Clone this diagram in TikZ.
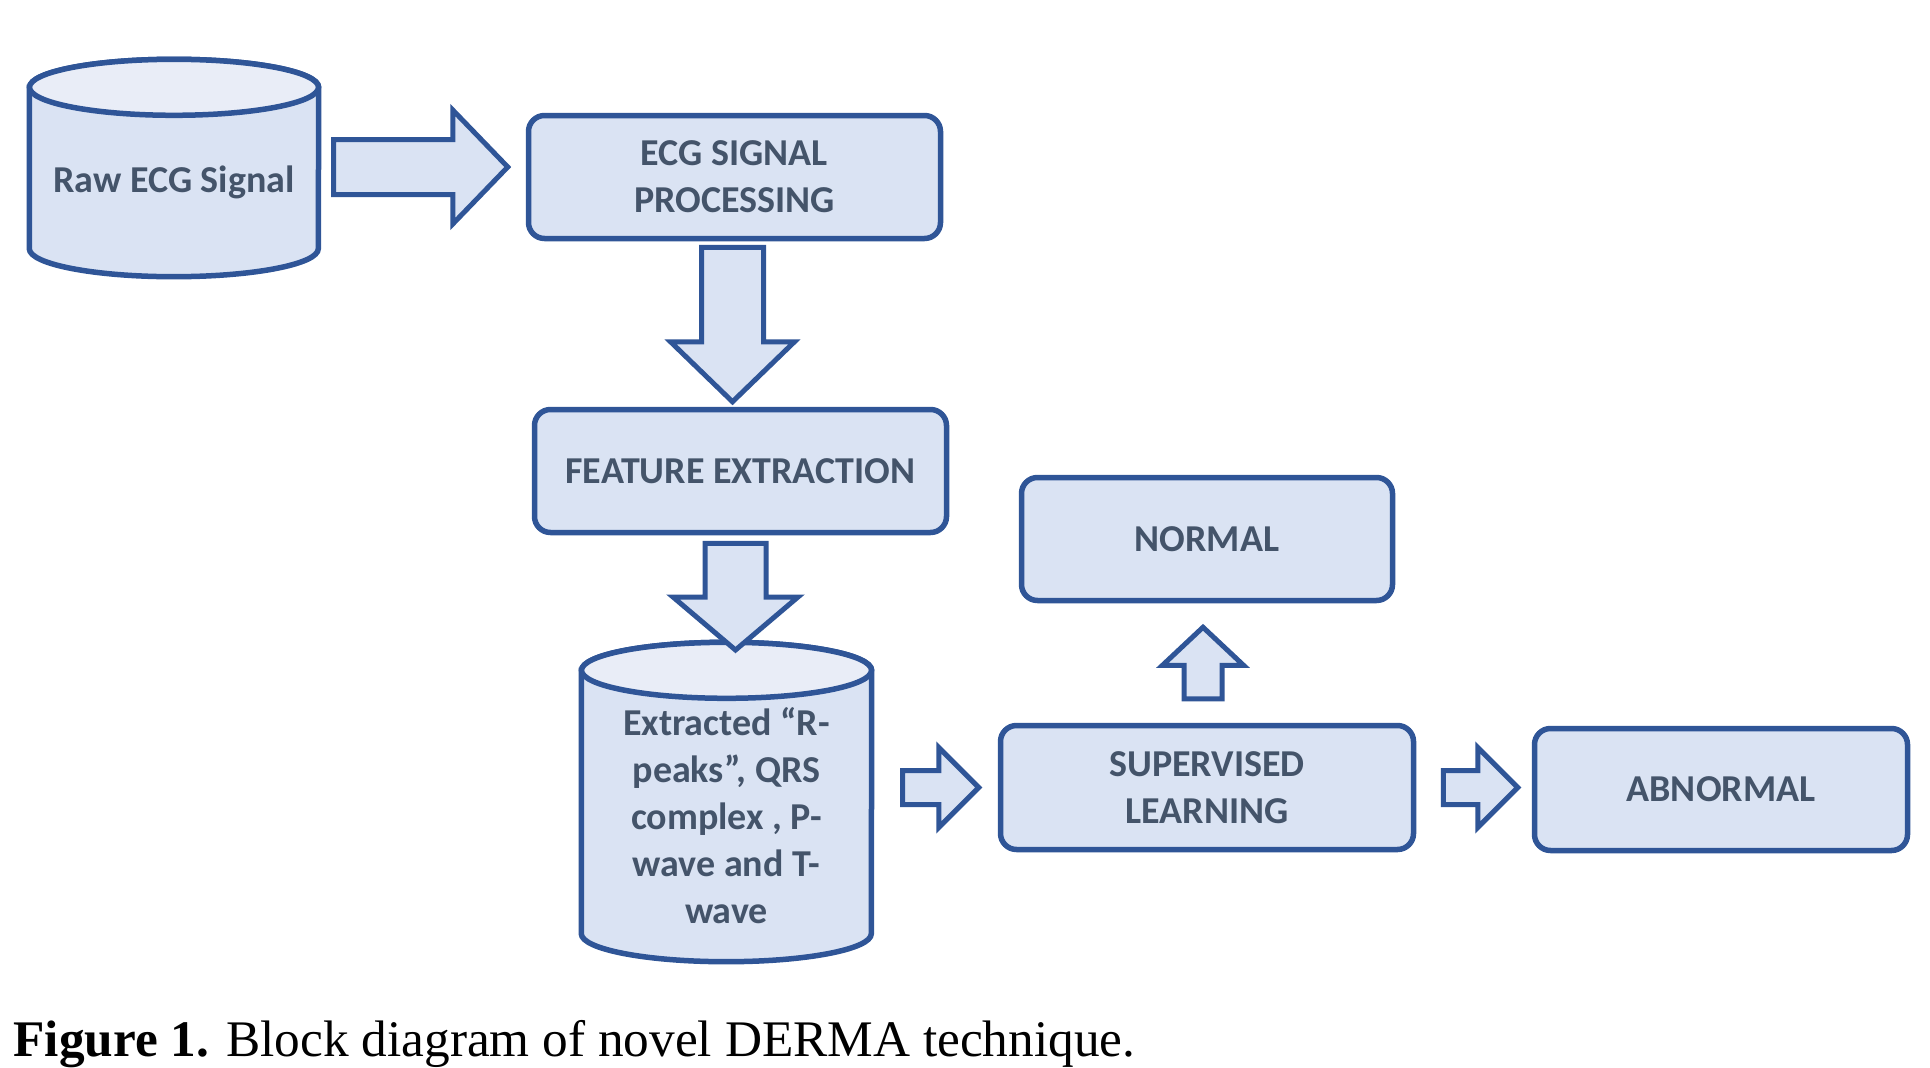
\documentclass[tikz,border=0pt]{standalone}
\usepackage{fontspec}
\setmainfont{Carlito}
\newfontfamily\capfont{Liberation Serif}
\usetikzlibrary{calc,backgrounds}
\definecolor{boxfill}{HTML}{DAE3F3}
\definecolor{topfill}{HTML}{E9EDF7}
\definecolor{boxline}{HTML}{2F5597}
\definecolor{boxtext}{HTML}{44546A}
\tikzset{
  BoxStyle/.style = { rectangle, rounded corners=16pt, draw=boxline,
                      fill=boxfill, line width=5.5pt, inner sep=0pt,
                      text=boxtext, align=center,
                      font=\fontsize{38}{47}\selectfont\bfseries },
  CylStyle/.style = { rectangle, inner sep=0pt, text=boxtext, align=center,
                      font=\fontsize{38}{47}\selectfont\bfseries },
  CylBody/.style  = { draw=boxline, fill=boxfill, line width=5.5pt },
  CylTop/.style   = { CylBody, fill=topfill },
  FatArrow/.style = { draw=boxline, fill=boxfill, line width=5pt,
                      line join=miter } }
% block arrow: tail, tip, shaft half width, head half width, head length
\newcommand\FatArrow[5]{%
  \coordinate (hb) at ($(#2)!#5!(#1)$);
  \filldraw[FatArrow] ($(#1)!#3!90:(#2)$) -- ($(hb)!#3!90:(#2)$)
    -- ($(hb)!#4!90:(#2)$) -- (#2) -- ($(hb)!#4!-90:(#2)$)
    -- ($(hb)!#3!-90:(#2)$) -- ($(#1)!#3!-90:(#2)$) -- cycle;}
% cylinder round a node: node, x radius, y radius
\newcommand\DrawCyl[3]{%
  \filldraw[CylBody] (#1.north west) -- ([yshift=#3]#1.south west)
    arc[start angle=180, end angle=360, x radius=#2, y radius=#3]
    -- (#1.north east)
    arc[start angle=0, end angle=180, x radius=#2, y radius=#3] -- cycle;
  \filldraw[CylTop] (#1.north) ellipse[x radius=#2, y radius=#3];}

\begin{document}
\begin{tikzpicture}[x=1pt, y=-1pt]
  \useasboundingbox (0,0) rectangle (1930,1068);
  \node[CylStyle, minimum width=289pt, minimum height=189pt](raw) at (174,182){Raw ECG Signal};
  \node[BoxStyle, minimum width=412pt, minimum height=123pt](proc) at (734.5,177){ECG SIGNAL\\PROCESSING};
  \node[BoxStyle, minimum width=412pt, minimum height=123pt](feat) at (740.5,471){FEATURE EXTRACTION};
  \node[CylStyle, minimum width=290pt, minimum height=291pt](feats) at (726.5,816)
    {Extracted “R-\\peaks”, QRS\\complex , P-\\wave and T-\\wave};
  \node[BoxStyle, minimum width=413pt, minimum height=124pt](sup) at (1207,787.5){SUPERVISED\\LEARNING};
  \node[BoxStyle, minimum width=371pt, minimum height=123pt](normal) at (1207,539){NORMAL};
  \node[BoxStyle, minimum width=373pt, minimum height=122pt](abn) at (1721,789.5){ABNORMAL};
  \node[anchor=base west, font=\capfont\fontsize{51.3}{60}\selectfont](cap) at (10,1056)
    {\textbf{Figure 1.} Block diagram of novel DERMA technique.};
  \begin{scope}[on background layer]
    \DrawCyl{raw}{144.5pt}{28pt}
    \DrawCyl{feats}{145pt}{28pt}
  \end{scope}
  %arrows
  \coordinate (a1s) at ([xshift=15pt,yshift=15pt]raw.east);
  \coordinate (a1e) at ([xshift=-18pt]a1s -| proc.west);
  \FatArrow{a1s}{a1e}{27.5pt}{57pt}{55pt}
  \coordinate (a2s) at ([xshift=-2pt,yshift=-6pt]proc.south);
  \coordinate (a2e) at ([yshift=5pt]a2s |- feat.north);
  \FatArrow{a2s}{a2e}{31pt}{62pt}{60pt}
  \coordinate (a3s) at ([xshift=-5pt,yshift=-8pt]feat.south);
  \coordinate (a3e) at (a3s |- 0,650);
  \FatArrow{a3s}{a3e}{30.5pt}{62.5pt}{53pt}
  \coordinate (a4s) at ([xshift=31pt]feats.east |- sup.west);
  \coordinate (a4e) at ([xshift=-19pt]sup.west);
  \FatArrow{a4s}{a4e}{17pt}{40pt}{40pt}
  \coordinate (a5s) at ([xshift=-4pt,yshift=24pt]sup.north);
  \coordinate (a5e) at ([yshift=-24pt]a5s |- normal.south);
  \FatArrow{a5s}{a5e}{19pt}{40.5pt}{38pt}
  \coordinate (a6s) at ([xshift=27pt]sup.east);
  \coordinate (a6e) at ([xshift=-14pt]a6s -| abn.west);
  \FatArrow{a6s}{a6e}{17pt}{40pt}{40pt}
\end{tikzpicture}
\end{document}
